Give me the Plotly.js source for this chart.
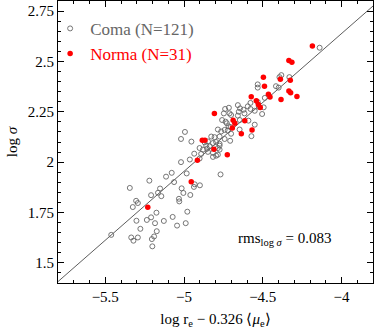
<!DOCTYPE html>
<html>
<head>
<meta charset="utf-8">
<script src="https://cdn.plot.ly/plotly-3.0.1.min.js"></script>
<style>
  html, body { margin: 0; padding: 0; background: #fff; }
  #chart { width: 374px; height: 329px; }
</style>
</head>
<body>
<div id="chart"></div>
<script>
// Coma cluster: log r_e - 0.326<mu_e>  vs  log sigma
const comaX = [
  -5.462, -5.344, -5.335, -5.325, -5.321, -5.304, -5.293, -5.302, -5.293, -5.277,
  -5.236, -5.220, -5.209, -5.209, -5.204, -5.201, -5.190, -5.184, -5.175, -5.173,
  -5.152, -5.165, -5.144, -5.114, -5.078, -5.063, -5.072, -5.128, -5.044, -5.032,
  -5.030, -5.015, -5.004, -4.989, -4.983, -4.979, -4.960, -4.994, -5.019, -4.953,
  -4.935, -5.019, -4.963, -4.768, -4.932, -4.937, -4.899, -4.739, -4.715, -4.658,
  -4.644, -4.622, -4.595, -4.578, -4.652, -4.616, -4.747, -4.711, -4.701, -4.658,
  -4.758, -4.736, -4.646, -4.591, -4.728, -4.717, -4.704, -4.647, -4.785, -4.742,
  -4.722, -4.764, -4.701, -4.572, -4.827, -4.806, -4.774, -4.742, -4.707, -4.869,
  -4.848, -4.816, -4.796, -4.774, -4.837, -4.859, -4.774, -4.785, -4.901, -4.880,
  -4.853, -4.774, -4.848, -4.816, -4.785, -4.891, -4.901, -4.816, -4.796, -4.578,
  -4.532, -4.532, -4.525, -4.139, -4.382, -4.394, -4.331, -4.416, -4.399, -4.487,
  -4.532, -4.494, -4.551, -4.504, -4.551
];
const comaY = [
  1.639, 1.872, 1.626, 1.777, 1.610, 1.808, 1.797, 1.709, 1.626, 1.669,
  1.713, 1.908, 1.836, 1.726, 1.618, 1.582, 1.631, 1.697, 1.749, 1.657,
  1.869, 1.848, 1.831, 1.928, 1.947, 1.901, 1.728, 1.708, 1.685, 1.818,
  1.805, 1.870, 1.847, 1.697, 1.944, 1.754, 1.837, 2.150, 2.115, 2.102,
  2.042, 2.000, 2.013, 1.939, 1.890, 1.877, 1.885, 2.264, 2.270, 2.283,
  2.267, 2.260, 2.277, 2.264, 2.250, 2.242, 2.242, 2.242, 2.234, 2.231,
  2.209, 2.201, 2.209, 2.206, 2.193, 2.178, 2.174, 2.162, 2.162, 2.160,
  2.157, 2.152, 2.141, 2.129, 2.127, 2.124, 2.127, 2.115, 2.106, 2.098,
  2.103, 2.095, 2.100, 2.091, 2.078, 2.082, 2.082, 2.070, 2.070, 2.062,
  2.067, 2.062, 2.051, 2.046, 2.037, 2.041, 2.018, 2.026, 2.032, 2.294,
  2.386, 2.370, 2.275, 2.568, 2.432, 2.422, 2.422, 2.377, 2.370, 2.319,
  2.299, 2.272, 2.255, 2.239, 2.186
];

// Norma cluster
const normaX = [
  -4.185, -4.334, -4.315, -4.496, -4.388, -4.325, -4.489, -4.334, -4.323, -4.283,
  -4.464, -4.454, -4.384, -4.573, -4.541, -4.528, -4.516, -4.807, -4.688, -4.677,
  -4.614, -4.693, -4.568, -4.636, -4.884, -4.867, -4.810, -4.725, -4.915, -4.954,
  -5.230
];
const normaY = [
  2.577, 2.504, 2.496, 2.422, 2.411, 2.406, 2.377, 2.353, 2.344, 2.326,
  2.337, 2.324, 2.311, 2.325, 2.305, 2.286, 2.271, 2.242, 2.208, 2.193,
  2.206, 2.170, 2.159, 2.141, 2.109, 2.109, 2.064, 2.037, 2.010, 1.903,
  1.776
];

// fitted relation, drawn across the whole panel
const fitX = [-5.8, -3.8];
const fitY = [1.407, 2.775];

const xTicks = [-5.5, -5, -4.5, -4];
const xTickText = ['\u22125.5', '\u22125', '\u22124.5', '\u22124'];
const yTicks = [1.5, 1.75, 2, 2.25, 2.5, 2.75];
const yTickText = ['1.5', '1.75', '2', '2.25', '2.5', '2.75'];

const serif = 'Liberation Serif, Times New Roman, serif';

const fitTrace = {
  x: fitX, y: fitY,
  type: 'scatter', mode: 'lines',
  line: { color: '#333', width: 0.8 },
  showlegend: false, hoverinfo: 'skip'
};

const comaTrace = {
  x: comaX, y: comaY,
  type: 'scatter', mode: 'markers',
  name: '<span style="color:#666">Coma (N=121)</span>',
  marker: { symbol: 'circle-open', size: 5, color: '#666', line: { width: 0.9, color: '#666' } }
};

const normaTrace = {
  x: normaX, y: normaY,
  type: 'scatter', mode: 'markers',
  name: '<span style="color:#f00">Norma (N=31)</span>',
  marker: { symbol: 'circle', size: 5.5, color: '#f00' }
};

const axisCommon = {
  showline: true, linecolor: '#000', linewidth: 1, mirror: 'allticks',
  ticks: 'inside', ticklen: 6, tickwidth: 1, tickcolor: '#000',
  showgrid: false, zeroline: false,
  tickfont: { family: serif, size: 15, color: '#000' }
};

const layout = {
  width: 374, height: 329,
  margin: { l: 58, r: 1, t: 1, b: 46 },
  paper_bgcolor: '#fff', plot_bgcolor: '#fff',
  font: { family: serif, color: '#000' },
  xaxis: Object.assign({}, axisCommon, {
    range: [-5.8, -3.8],
    tickvals: xTicks, ticktext: xTickText,
    minor: { dtick: 0.1, tick0: -5.5, ticks: 'inside', ticklen: 3, tickcolor: '#000' },
    title: { text: 'log r<sub>e</sub> \u2212 0.326 \u27e8<i>\u03bc</i><sub>e</sub>\u27e9', font: { family: serif, size: 15 }, standoff: 9 }
  }),
  yaxis: Object.assign({}, axisCommon, {
    range: [1.4, 2.8],
    tickvals: yTicks, ticktext: yTickText,
    minor: { dtick: 0.05, tick0: 1.5, ticks: 'inside', ticklen: 3, tickcolor: '#000' },
    title: { text: 'log <i>\u03c3</i>', font: { family: serif, size: 15 }, standoff: 6 }
  }),
  legend: {
    x: -0.025, y: 0.965, xanchor: 'left', yanchor: 'top',
    bgcolor: 'rgba(0,0,0,0)', borderwidth: 0,
    font: { family: serif, size: 17 },
    tracegroupgap: 0
  },
  annotations: [{
    x: -4.364, y: 1.62, xref: 'x', yref: 'y',
    text: 'rms<sub>log <i>\u03c3</i></sub> = 0.083',
    showarrow: false,
    font: { family: serif, size: 15, color: '#000' }
  }]
};

Plotly.newPlot('chart', [fitTrace, comaTrace, normaTrace], layout, { displayModeBar: false, staticPlot: true });
</script>
</body>
</html>
